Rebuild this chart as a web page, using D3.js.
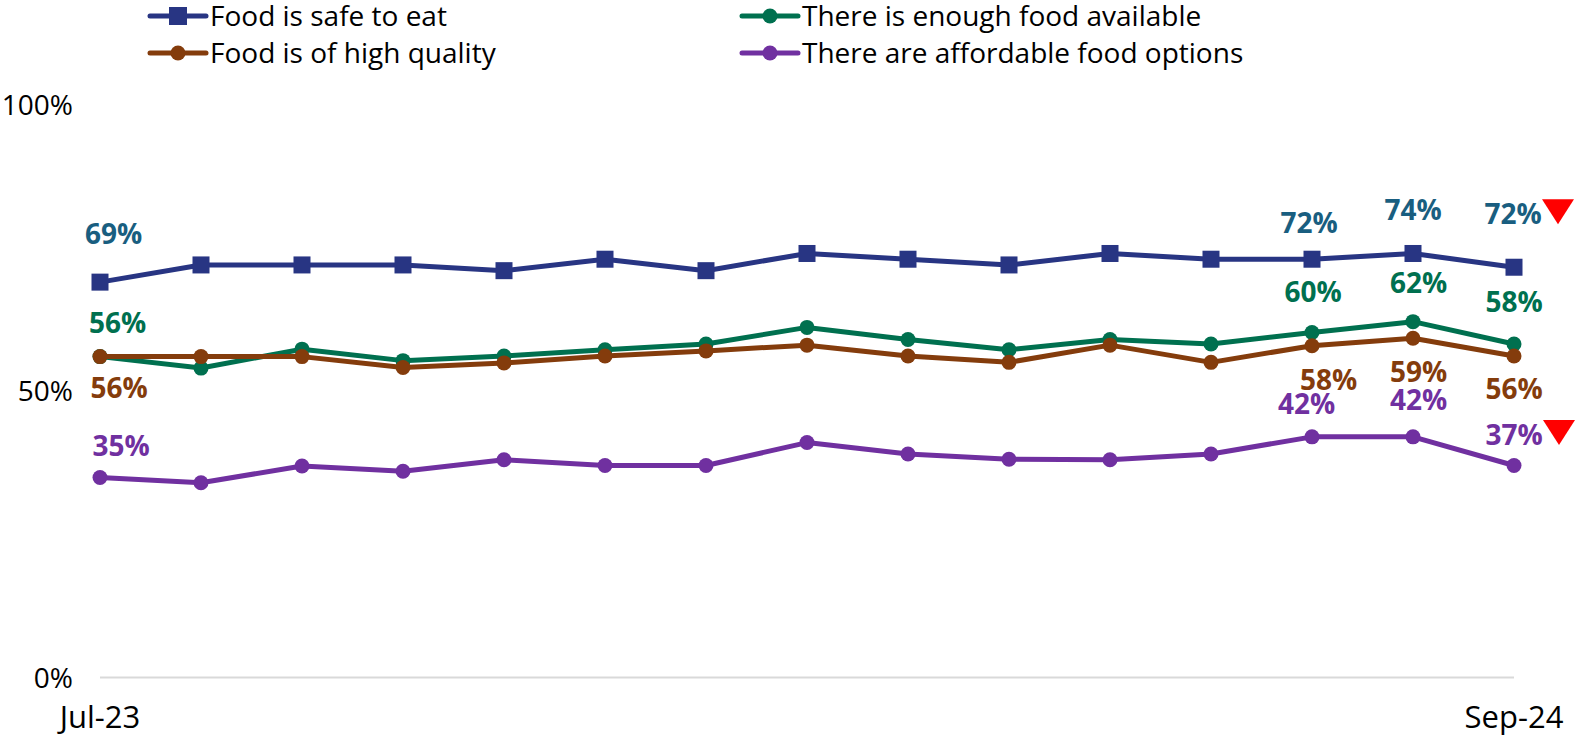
<!DOCTYPE html>
<html>
<head>
<meta charset="utf-8">
<script src="https://cdn.jsdelivr.net/npm/d3@7"></script>
<style>
  html, body { margin: 0; padding: 0; background: #ffffff; }
  svg { display: block; font-family: "Open Sans", "Noto Sans", sans-serif; }
</style>
</head>
<body>
<svg id="chart" width="1577" height="735"></svg>
<script>
// ---- data ----
const months = ["Jul-23","Aug-23","Sep-23","Oct-23","Nov-23","Dec-23","Jan-24","Feb-24","Mar-24","Apr-24","May-24","Jun-24","Jul-24","Aug-24","Sep-24"];
const xTickLabels = ["Jul-23", "Sep-24"];
const yTicks = [0, 50, 100];

const seriesNames = ["Food is safe to eat", "There is enough food available", "Food is of high quality", "There are affordable food options"];
const safeValues       = [69, 72, 72, 72, 71, 73, 71, 74, 73, 72, 74, 73, 73, 74, 71.6];
const enoughValues     = [56, 54, 57.3, 55.3, 56.1, 57.2, 58.2, 61.1, 59, 57.2, 59, 58.2, 60.2, 62.1, 58.2];
const qualityValues    = [56, 56, 56, 54.1, 54.9, 56.1, 57, 58, 56.1, 55, 58, 55, 57.9, 59.2, 56.1];
const affordableValues = [34.9, 34, 36.9, 36, 38, 37, 37, 41, 39, 38.1, 38, 39, 42, 42, 37];

// data labels shown on the chart (point index -> text)
const safeLabels       = [[0, "69%"], [12, "72%"], [13, "74%"], [14, "72%"]];
const enoughLabels     = [[0, "56%"], [12, "60%"], [13, "62%"], [14, "58%"]];
const qualityLabels    = [[0, "56%"], [12, "58%"], [13, "59%"], [14, "56%"]];
const affordableLabels = [[0, "35%"], [12, "42%"], [13, "42%"], [14, "37%"]];
// series flagged with a significant decrease at the last point
const decreaseFlags = [true, false, false, true];

// ---- layout / style ----
const lineColors  = ["#283583", "#00704f", "#843c0c", "#7030a0"];
const labelColors = ["#195e80", "#00704f", "#843c0c", "#7030a0"];
const markers     = ["square", "circle", "circle", "circle"];
// label offsets from their point (layout only)
const labelOffsets = [
  [[13.5, -48], [-3, -36], [0, -43.5], [-1, -53]],
  [[17.5, -34], [1, -41], [5.5, -39], [0, -42]],
  [[19, 31], [16.5, 34], [5.5, 34], [0, 33]],
  [[21, -32], [-5.5, -33], [5.5, -37], [0, -30.5]]
];

const svg = d3.select("#chart");
const x = d3.scalePoint().domain(months).range([100, 1514]);
const y = d3.scaleLinear().domain([0, 100]).range([677.5, 104.5]);

const series = [safeValues, enoughValues, qualityValues, affordableValues];
const labels = [safeLabels, enoughLabels, qualityLabels, affordableLabels];

// baseline axis
svg.append("line")
  .attr("x1", x(months[0])).attr("x2", x(months[months.length - 1]))
  .attr("y1", y(0)).attr("y2", y(0))
  .attr("stroke", "#d9d9d9").attr("stroke-width", 2);

// y tick labels
svg.append("g").selectAll("text").data(yTicks).join("text")
  .attr("x", 73).attr("y", d => y(d) + 10)
  .attr("text-anchor", "end")
  .attr("font-size", 28).attr("fill", "#000")
  .text(d => d + "%");

// x tick labels
svg.append("g").selectAll("text").data(xTickLabels).join("text")
  .attr("x", d => x(d)).attr("y", 728)
  .attr("text-anchor", "middle")
  .attr("font-size", 31).attr("fill", "#000")
  .text(d => d);

const line = d3.line().x((d, i) => x(months[i])).y(d => y(d));

series.forEach((vals, s) => {
  const g = svg.append("g");
  g.append("path").datum(vals)
    .attr("d", line).attr("fill", "none")
    .attr("stroke", lineColors[s]).attr("stroke-width", 5)
    .attr("stroke-linejoin", "round");
  if (markers[s] === "square") {
    g.selectAll("rect").data(vals).join("rect")
      .attr("x", (d, i) => x(months[i]) - 8.5).attr("y", d => y(d) - 8.5)
      .attr("width", 17).attr("height", 17)
      .attr("fill", lineColors[s]);
  } else {
    g.selectAll("circle").data(vals).join("circle")
      .attr("cx", (d, i) => x(months[i])).attr("cy", d => y(d))
      .attr("r", 7.5).attr("fill", lineColors[s]);
  }
});

// data labels
series.forEach((vals, s) => {
  labels[s].forEach(([i, txt], k) => {
    const [dx, dy] = labelOffsets[s][k];
    const cx = x(months[i]) + dx, cy = y(vals[i]) + dy;
    svg.append("text")
      .attr("x", cx).attr("y", cy + 10)
      .attr("text-anchor", "middle")
      .attr("font-size", 28).attr("font-weight", "bold")
      .attr("fill", labelColors[s])
      .text(txt);
    if (decreaseFlags[s] && i === months.length - 1) {
      const tx = cx + 45, ty = cy - 2.5;
      svg.append("path")
        .attr("d", d3.line()([[tx - 16, ty - 12.5], [tx + 16, ty - 12.5], [tx, ty + 12.5]]) + "Z")
        .attr("fill", "#ff0000");
    }
  });
});

// legend (Excel row-major, 2 columns)
const legendPos = [[150, 16], [742, 16], [150, 53], [742, 53]];
seriesNames.forEach((name, s) => {
  const [lx, ly] = legendPos[s];
  const g = svg.append("g");
  g.append("line")
    .attr("x1", lx).attr("x2", lx + 56).attr("y1", ly).attr("y2", ly)
    .attr("stroke", lineColors[s]).attr("stroke-width", 5).attr("stroke-linecap", "round");
  if (markers[s] === "square") {
    g.append("rect").attr("x", lx + 28 - 9).attr("y", ly - 9)
      .attr("width", 18).attr("height", 18).attr("fill", lineColors[s]);
  } else {
    g.append("circle").attr("cx", lx + 28).attr("cy", ly).attr("r", 7.5).attr("fill", lineColors[s]);
  }
  g.append("text")
    .attr("x", lx + 60).attr("y", ly + 10)
    .attr("font-size", 28).attr("fill", "#000")
    .text(name);
});
</script>
</body>
</html>
